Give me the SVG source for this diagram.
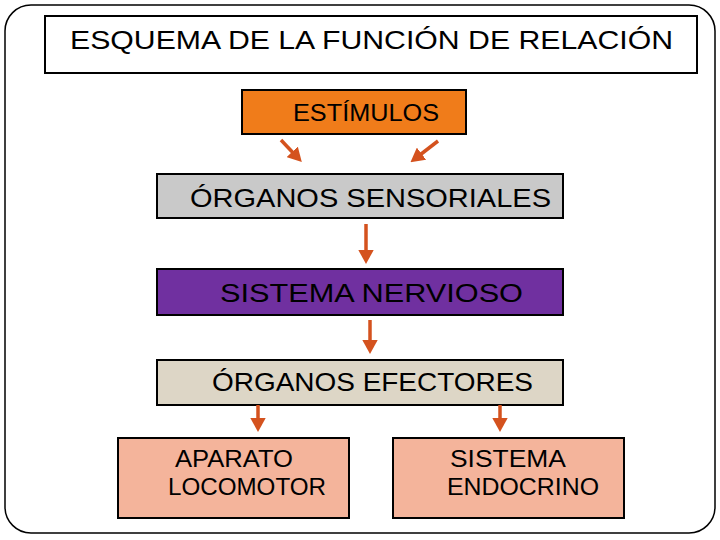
<svg xmlns="http://www.w3.org/2000/svg" width="720" height="540" viewBox="0 0 720 540">
<style>
.t{font-family:"Liberation Sans","DejaVu Sans",sans-serif;fill:#000;}
.box{stroke:#000;stroke-width:2;}
.arr{stroke:#D4521E;stroke-width:3.5;fill:none;marker-end:url(#ah);}
</style>
<defs>
<marker id="ah" markerWidth="4" markerHeight="4.4" refX="2" refY="2.2" orient="auto" markerUnits="strokeWidth">
<path d="M0,0 L4,2.2 L0,4.4 Z" fill="#D4521E"/>
</marker>
</defs>
<rect x="0" y="0" width="720" height="540" fill="#fff"/>
<rect x="5" y="5" width="710" height="528" rx="26" ry="26" fill="none" stroke="#000" stroke-width="1.5"/>
<g id="title">
<rect x="45" y="16" width="652" height="57" fill="#fff" stroke="#000" stroke-width="2"/>
<text class="t" x="70" y="49" font-size="26" textLength="603" lengthAdjust="spacingAndGlyphs">ESQUEMA DE LA FUNCIÓN DE RELACIÓN</text>
</g>
<g id="estimulos">
<rect class="box" x="242" y="90" width="224" height="44" fill="#F07C1A"/>
<text class="t" x="293" y="121" font-size="23" textLength="146" lengthAdjust="spacingAndGlyphs">ESTÍMULOS</text>
</g>
<g id="sensoriales">
<rect class="box" x="157" y="174" width="406" height="44" fill="#C9C9C9"/>
<text class="t" x="190" y="207" font-size="26" textLength="361" lengthAdjust="spacingAndGlyphs">ÓRGANOS SENSORIALES</text>
</g>
<g id="nervioso">
<rect class="box" x="157" y="269" width="406" height="46" fill="#7030A0"/>
<text class="t" x="220" y="302" font-size="26" textLength="303" lengthAdjust="spacingAndGlyphs">SISTEMA NERVIOSO</text>
</g>
<g id="efectores">
<rect class="box" x="157" y="360" width="406" height="45" fill="#DDD6C6"/>
<text class="t" x="212" y="391" font-size="26" textLength="321" lengthAdjust="spacingAndGlyphs">ÓRGANOS EFECTORES</text>
</g>
<g id="locomotor">
<rect class="box" x="118" y="438" width="231" height="80" fill="#F4B49B"/>
<text class="t" x="175" y="467" font-size="23" textLength="118" lengthAdjust="spacingAndGlyphs">APARATO</text>
<text class="t" x="168" y="495" font-size="23" textLength="158" lengthAdjust="spacingAndGlyphs">LOCOMOTOR</text>
</g>
<g id="endocrino">
<rect class="box" x="393" y="438" width="231" height="80" fill="#F4B49B"/>
<text class="t" x="450" y="467" font-size="23" textLength="116" lengthAdjust="spacingAndGlyphs">SISTEMA</text>
<text class="t" x="447" y="495" font-size="23" textLength="152" lengthAdjust="spacingAndGlyphs">ENDOCRINO</text>
</g>
<g id="connectors">
<line class="arr" x1="281" y1="140" x2="297" y2="157"/>
<line class="arr" x1="438" y1="141" x2="416" y2="158"/>
<line class="arr" x1="366" y1="224" x2="366" y2="257"/>
<line class="arr" x1="370" y1="320" x2="370" y2="347"/>
<line class="arr" x1="258" y1="405" x2="258" y2="425"/>
<line class="arr" x1="500" y1="405" x2="500" y2="425"/>
</g>
</svg>
